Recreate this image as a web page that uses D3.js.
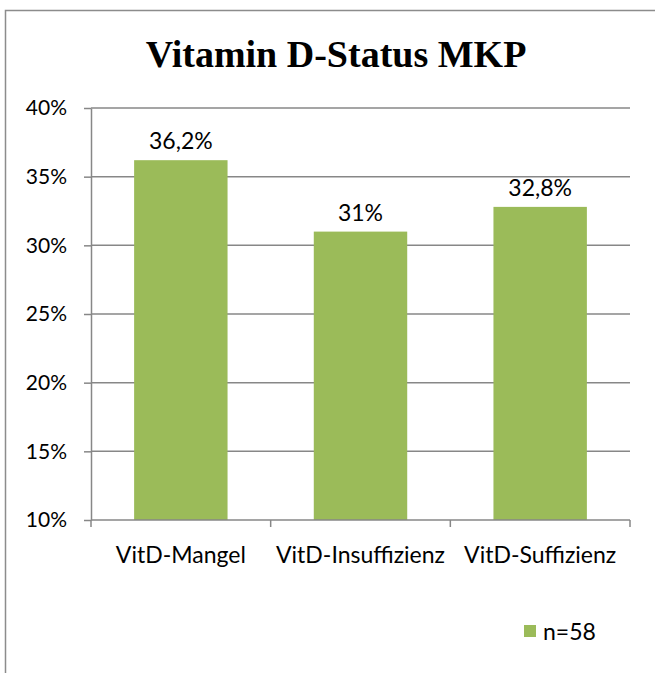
<!DOCTYPE html>
<html>
<head>
<meta charset="utf-8">
<script src="https://cdn.jsdelivr.net/npm/d3@7"></script>
<style>
  body { margin: 0; background: #fff; }
  svg { display: block; }
  text { font-variant-ligatures: none; }
</style>
</head>
<body>
<svg id="chart" width="655" height="673"></svg>
<script>
const categories = ['VitD-Mangel', 'VitD-Insuffizienz', 'VitD-Suffizienz']
const values = [36.2, 31, 32.8]
const valueLabels = ['36,2%', '31%', '32,8%']
const yTicks = [10, 15, 20, 25, 30, 35, 40]
const legendLabel = 'n=58'

const width = 655
const height = 673
const margin = { top: 108, right: 25, bottom: 153, left: 91 }
const font = "Lato, 'Open Sans', sans-serif"
const barColor = '#9bbb59'
const gridColor = '#878787'

const svg = d3.select('#chart')

// outer frame, cut off at right and bottom like the reference
svg.append('rect')
    .attr('x', 5.5)
    .attr('y', 10.5)
    .attr('width', width + 20)
    .attr('height', height + 20)
    .attr('fill', 'none')
    .attr('stroke', '#8c8c8c')
    .attr('stroke-width', 1.5)

svg.append('text')
    .attr('x', 336)
    .attr('y', 67)
    .attr('text-anchor', 'middle')
    .style('font', "bold 38px 'Liberation Serif', 'Times New Roman', serif")
    .text('Vitamin D-Status MKP')

const x = d3.scaleBand()
    .domain(categories)
    .range([margin.left, width - margin.right])
    .paddingInner(0.48)
    .paddingOuter(0.24)

const y = d3.scaleLinear()
    .domain([10, 40])
    .range([height - margin.bottom, margin.top])

// gridlines
svg.append('g')
    .selectAll('line')
    .data(yTicks.slice(1))
    .enter().append('line')
    .attr('x1', margin.left)
    .attr('x2', width - margin.right)
    .attr('y1', d => y(d))
    .attr('y2', d => y(d))
    .attr('stroke', gridColor)
    .attr('stroke-width', 1.5)

// y axis
const yAxis = svg.append('g')
    .attr('transform', `translate(${margin.left},0)`)
    .call(d3.axisLeft(y).tickValues(yTicks).tickFormat(d => d + '%').tickSize(7).tickSizeOuter(0).tickPadding(17))
yAxis.selectAll('line, path').attr('stroke', gridColor).attr('stroke-width', 1.5)
yAxis.selectAll('text')
    .style('font', `21px ${font}`)
    .attr('fill', '#000')

// bars
svg.append('g')
    .selectAll('rect')
    .data(values)
    .enter().append('rect')
    .attr('x', (d, i) => x(categories[i]))
    .attr('y', d => y(d))
    .attr('width', x.bandwidth())
    .attr('height', d => y(10) - y(d))
    .attr('fill', barColor)

// x axis
const xPos = d3.scalePoint()
    .domain(d3.range(categories.length + 1))
    .range([margin.left, width - margin.right])
const xAxis = svg.append('g')
    .attr('transform', `translate(0,${y(10)})`)
xAxis.append('line')
    .attr('x1', margin.left)
    .attr('x2', width - margin.right)
    .attr('stroke', gridColor)
    .attr('stroke-width', 1.5)
xAxis.selectAll('.tick')
    .data(xPos.domain())
    .enter().append('line')
    .attr('x1', d => xPos(d))
    .attr('x2', d => xPos(d))
    .attr('y1', 0)
    .attr('y2', 7)
    .attr('stroke', gridColor)
    .attr('stroke-width', 1.5)
xAxis.selectAll('text')
    .data(categories)
    .enter().append('text')
    .attr('x', d => x(d) + x.bandwidth() / 2)
    .attr('y', 43)
    .attr('text-anchor', 'middle')
    .style('font', `23px ${font}`)
    .text(d => d)

// value labels
svg.append('g')
    .selectAll('text')
    .data(values)
    .enter().append('text')
    .attr('x', (d, i) => x(categories[i]) + x.bandwidth() / 2)
    .attr('y', d => y(d) - 11)
    .attr('text-anchor', 'middle')
    .style('font', `23px ${font}`)
    .text((d, i) => valueLabels[i])

// legend
const legend = svg.append('g').attr('transform', 'translate(524,625)')
legend.append('rect')
    .attr('width', 12)
    .attr('height', 12)
    .attr('fill', barColor)
legend.append('text')
    .attr('x', 19)
    .attr('y', 15)
    .style('font', `23px ${font}`)
    .text(legendLabel)
</script>
</body>
</html>
